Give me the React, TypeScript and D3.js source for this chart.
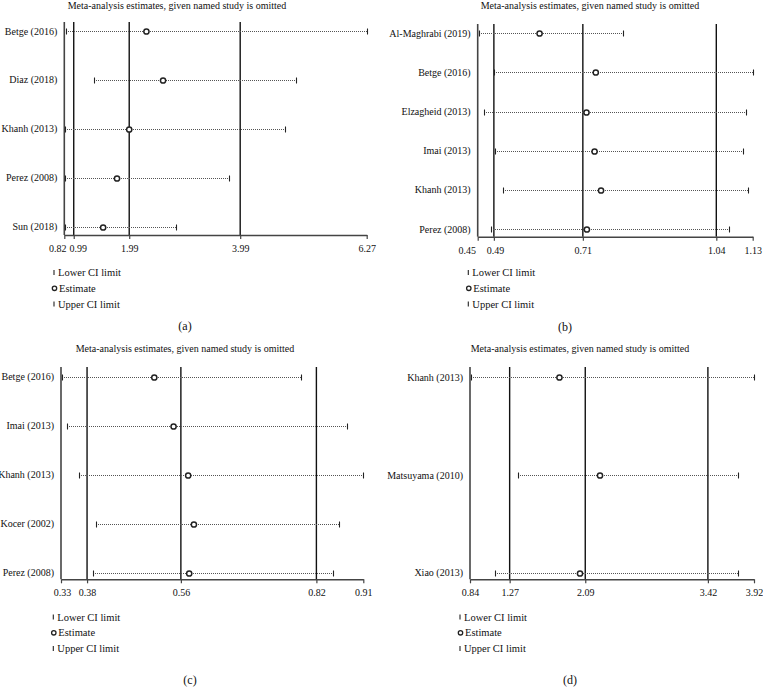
import React, { useRef, useEffect } from "react";
import * as d3 from "d3";

// panel (a)
const studiesA = ["Betge (2016)", "Diaz (2018)", "Khanh (2013)", "Perez (2008)", "Sun (2018)"];
const lowerA = [0.856, 1.36, 0.833, 0.825, 0.838];
const estA = [2.3, 2.6, 1.99, 1.77, 1.52];
const upperA = [6.27, 5.0, 4.8, 3.78, 2.83];
const ticksA = [0.82, 0.99, 1.99, 3.99, 6.27];

// panel (b)
const studiesB = ["Al-Maghrabi (2019)", "Betge (2016)", "Elzagheid (2013)", "Imai (2013)", "Khanh (2013)", "Perez (2008)"];
const lowerB = [0.452, 0.49, 0.466, 0.494, 0.512, 0.483];
const estB = [0.603, 0.742, 0.719, 0.739, 0.755, 0.72];
const upperB = [0.809, 1.13, 1.113, 1.105, 1.119, 1.071];
const ticksB = [0.45, 0.49, 0.71, 1.04, 1.13];

// panel (c)
const studiesC = ["Betge (2016)", "Imai (2013)", "Khanh (2013)", "Kocer (2002)", "Perez (2008)"];
const lowerC = [0.331, 0.342, 0.365, 0.398, 0.391];
const estC = [0.509, 0.546, 0.574, 0.585, 0.576];
const upperC = [0.79, 0.878, 0.91, 0.864, 0.851];
const ticksC = [0.33, 0.38, 0.56, 0.82, 0.91];

// panel (d)
const studiesD = ["Khanh (2013)", "Matsuyama (2010)", "Xiao (2013)"];
const lowerD = [0.85, 1.357, 1.111];
const estD = [1.81, 2.25, 2.033];
const upperD = [3.92, 3.75, 3.743];
const ticksD = [0.84, 1.27, 2.09, 3.42, 3.92];

const legendText = ["Lower CI limit", "Estimate", "Upper CI limit"];
const title = "Meta-analysis estimates, given named study is omitted";
const FONT = "Liberation Serif, DejaVu Serif, serif";

// layout per panel (tickDx nudges crowded tick labels apart)
const panels = [
  { studies: studiesA, lower: lowerA, est: estA, upper: upperA, ticks: ticksA, caption: "(a)",
    left: 64.3, right: 366.7, top: 22, axisY: 235, rowTop: 31, rowBottom: 226.7,
    titleX: 177, titleY: 9, legendX: 54, legendY: 272.5, capX: 185, capY: 330, tickDx: [-7, 4, 0, 0, 0] },
  { studies: studiesB, lower: lowerB, est: estB, upper: upperB, ticks: ticksB, caption: "(b)",
    left: 477.7, right: 752.7, top: 24, axisY: 236.7, rowTop: 33.3, rowBottom: 229,
    titleX: 590, titleY: 9, legendX: 468.3, legendY: 272.5, capX: 565, capY: 331, tickDx: [-11, 1, 0, 0, 0] },
  { studies: studiesC, lower: lowerC, est: estC, upper: upperC, ticks: ticksC, caption: "(c)",
    left: 61, right: 363.3, top: 367, axisY: 579.3, rowTop: 376.7, rowBottom: 572.7,
    titleX: 185, titleY: 352, legendX: 53.3, legendY: 617, capX: 190, capY: 684, tickDx: [1, 0, 0, 0, 0] },
  { studies: studiesD, lower: lowerD, est: estD, upper: upperD, ticks: ticksD, caption: "(d)",
    left: 470, right: 754, top: 367, axisY: 579.3, rowTop: 377.3, rowBottom: 572.7,
    titleX: 580, titleY: 352, legendX: 460, legendY: 617, capX: 570, capY: 684, tickDx: [0, 0, 0, 0, 0] },
];

export default function App() {
  const ref = useRef<SVGSVGElement>(null);

  useEffect(() => {
    const svg = d3.select(ref.current);
    svg.selectAll("*").remove();

    panels.forEach((p) => {
      const g = svg.append("g").attr("font-family", FONT).attr("fill", "#111");
      const x = d3.scaleLinear().domain([p.ticks[0], p.ticks[p.ticks.length - 1]]).range([p.left, p.right]);
      const y = d3.scalePoint<string>().domain(p.studies).range([p.rowTop, p.rowBottom]);
      // snap to the pixel grid so the dotted lines stay crisp
      const yy = (s: string) => Math.round(y(s)!) + 0.5;
      const xx = (v: number) => Math.round(x(v));

      // title
      g.append("text")
        .attr("x", p.titleX).attr("y", p.titleY)
        .attr("text-anchor", "middle")
        .attr("font-size", 10)
        .text(title);

      // reference lines at the middle ticks
      g.selectAll(".ref")
        .data(p.ticks.slice(1, -1))
        .enter()
        .append("line")
        .attr("x1", (d) => x(d)).attr("x2", (d) => x(d))
        .attr("y1", p.top).attr("y2", p.axisY)
        .attr("stroke", "#111").attr("stroke-width", 1.4);

      // y axis line
      g.append("line")
        .attr("x1", p.left).attr("x2", p.left)
        .attr("y1", p.top).attr("y2", p.axisY)
        .attr("stroke", "#444").attr("stroke-width", 1.6);

      // x axis
      const ax = g.append("g")
        .attr("transform", `translate(0, ${p.axisY})`)
        .call(d3.axisBottom(x).tickValues(p.ticks).tickSize(4).tickSizeOuter(0).tickFormat(d3.format(".2f")));
      ax.attr("font-family", FONT).attr("font-size", 10);
      ax.select(".domain").attr("stroke", "#444").attr("stroke-width", 1.4);
      ax.selectAll(".tick line").attr("stroke", "#444").attr("stroke-width", 1.2);
      ax.selectAll<SVGTextElement, number>("text")
        .attr("y", 10)
        .attr("x", (d, i) => p.tickDx[i])
        .attr("fill", "#111");

      // study labels
      g.selectAll(".lab")
        .data(p.studies)
        .enter()
        .append("text")
        .attr("x", p.left - 7)
        .attr("y", (d) => y(d)!)
        .attr("dy", "0.35em")
        .attr("text-anchor", "end")
        .attr("font-size", 10)
        .text((d) => d);

      // CI dotted lines
      g.selectAll(".ci")
        .data(p.studies)
        .enter()
        .append("line")
        .attr("x1", (d, i) => xx(p.lower[i])).attr("x2", (d, i) => xx(p.upper[i]))
        .attr("y1", (d) => yy(d)).attr("y2", (d) => yy(d))
        .attr("stroke", "#555").attr("stroke-width", 1)
        .attr("stroke-dasharray", "1,1")
        .attr("shape-rendering", "crispEdges");

      // CI end ticks
      const ends = p.studies.flatMap((s, i) => [{ s, v: p.lower[i] }, { s, v: p.upper[i] }]);
      g.selectAll(".end")
        .data(ends)
        .enter()
        .append("line")
        .attr("x1", (d) => xx(d.v) + 0.5).attr("x2", (d) => xx(d.v) + 0.5)
        .attr("y1", (d) => yy(d.s) - 3).attr("y2", (d) => yy(d.s) + 3)
        .attr("stroke", "#222").attr("stroke-width", 1.1);

      // estimates
      g.selectAll(".est")
        .data(p.studies)
        .enter()
        .append("circle")
        .attr("cx", (d, i) => x(p.est[i]))
        .attr("cy", (d) => yy(d))
        .attr("r", 2.6)
        .attr("fill", "#fff")
        .attr("stroke", "#222").attr("stroke-width", 1.5);

      // legend
      const lg = g.append("g").attr("transform", `translate(${p.legendX}, ${p.legendY})`);
      const step = 15.8;
      lg.append("line").attr("x1", 0).attr("x2", 0).attr("y1", -2.5).attr("y2", 2.5)
        .attr("stroke", "#222").attr("stroke-width", 1.1);
      lg.append("circle").attr("cx", 0.5).attr("cy", step).attr("r", 2.2)
        .attr("fill", "#fff").attr("stroke", "#222").attr("stroke-width", 1.3);
      lg.append("line").attr("x1", 0).attr("x2", 0).attr("y1", 2 * step - 2.5).attr("y2", 2 * step + 2.5)
        .attr("stroke", "#222").attr("stroke-width", 1.1);
      lg.selectAll("text")
        .data(legendText)
        .enter()
        .append("text")
        .attr("x", (d, i) => (i === 1 ? 5 : 4))
        .attr("y", (d, i) => i * step)
        .attr("dy", "0.35em")
        .attr("font-size", 10.5)
        .text((d) => d);

      // caption
      g.append("text")
        .attr("x", p.capX).attr("y", p.capY)
        .attr("text-anchor", "middle")
        .attr("font-size", 12)
        .text(p.caption);
    });
  }, []);

  return (
    <svg
      ref={ref}
      width={763}
      height={691}
      style={{ position: "absolute", left: 0, top: 0, background: "#fff" }}
    />
  );
}
